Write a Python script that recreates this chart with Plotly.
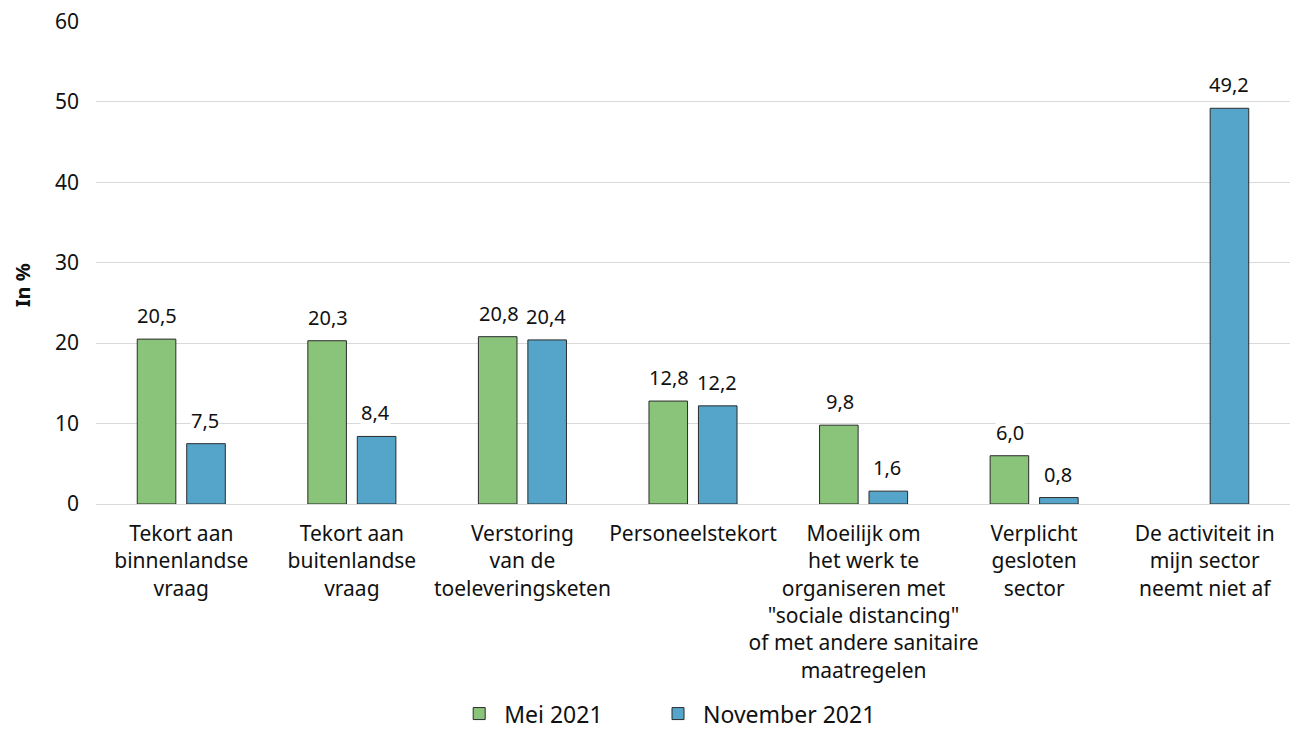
import plotly.graph_objects as go

categories = [
    "Tekort aan<br>binnenlandse<br>vraag",
    "Tekort aan<br>buitenlandse<br>vraag",
    "Verstoring<br>van de<br>toeleveringsketen",
    "Personeelstekort",
    "Moeilijk om<br>het werk te<br>organiseren met<br>\"sociale distancing\"<br>of met andere sanitaire<br>maatregelen",
    "Verplicht<br>gesloten<br>sector",
    "De activiteit in<br>mijn sector<br>neemt niet af",
]
mei_2021 = [20.5, 20.3, 20.8, 12.8, 9.8, 6.0, None]
nov_2021 = [7.5, 8.4, 20.4, 12.2, 1.6, 0.8, 49.2]
y_ticks = [0, 10, 20, 30, 40, 50, 60]

FONT = "Noto Sans"
GREEN = "#89C47A"
BLUE = "#55A5CB"
FS = 21

fig = go.Figure()
fig.add_trace(go.Bar(name="Mei 2021", x=categories, y=mei_2021, legend="legend",
                     marker=dict(color=GREEN, line=dict(color="#2b2b2b", width=1))))
fig.add_trace(go.Bar(name="November 2021", x=categories, y=nov_2021, legend="legend2",
                     marker=dict(color=BLUE, line=dict(color="#2b2b2b", width=1))))

def fmt(v):
    return f"{v:.1f}".replace(".", ",")

annotations = []
for i, cat in enumerate(categories):
    for vals, shift, xs in ((mei_2021, -0.1225, -3), (nov_2021, 0.1225, 3)):
        v = vals[i]
        if v is None:
            continue
        annotations.append(dict(
            x=i + shift, y=v, xref="x", yref="y", text=fmt(v),
            showarrow=False, yanchor="bottom", yshift=9, xshift=xs,
            bgcolor="white", borderpad=0,
            font=dict(family=FONT, size=20, color="#111"),
        ))
annotations.append(dict(
    x=-0.062, y=0.453, xref="paper", yref="paper", text="<b>In %</b>",
    textangle=-90, showarrow=False, xanchor="center", yanchor="middle",
    font=dict(family=FONT, size=20, color="#111"),
))

legend_common = dict(orientation="h", xanchor="left", y=-0.434, yanchor="middle",
                     font=dict(family=FONT, size=23), itemwidth=40,
                     bgcolor="rgba(0,0,0,0)")

fig.update_layout(
    width=1290, height=729,
    margin=dict(l=88, r=8, t=13, b=233, autoexpand=False),
    paper_bgcolor="white", plot_bgcolor="white",
    barmode="group", bargap=0.42, bargroupgap=0.22,
    font=dict(family=FONT, size=FS, color="#111"),
    showlegend=True,
    legend=dict(x=0.30, **legend_common),
    legend2=dict(x=0.4665, **legend_common),
    annotations=annotations,
    hovermode=False,
)
fig.update_xaxes(tickangle=0, showgrid=False, showline=False, ticks="", automargin=False,
                 ticklabelstandoff=15, tickfont=dict(family=FONT, size=FS))
fig.update_yaxes(range=[0, 60.05], tickvals=y_ticks, showgrid=True, gridcolor="#d9d9d9",
                 gridwidth=1, zeroline=True, zerolinecolor="#d9d9d9", zerolinewidth=1,
                 automargin=False, ticklabeloverflow="allow",
                 ticklabelstandoff=16, tickfont=dict(family=FONT, size=FS))

fig.write_html("out.html")
